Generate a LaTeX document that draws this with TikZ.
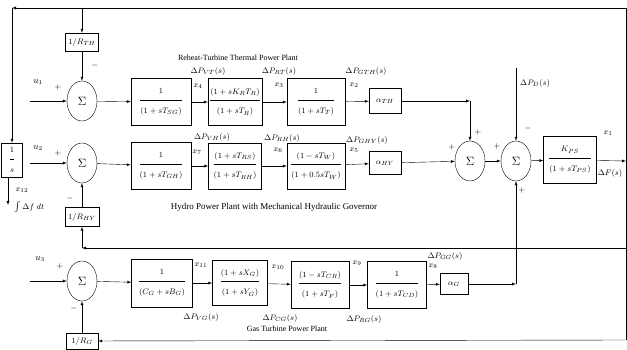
\documentclass[tikz,border=0pt]{standalone}
\usepackage{fontspec}
\setmainfont{Liberation Serif}
\usetikzlibrary{shapes.geometric}
\newcommand{\blkfrac}[2]{$\displaystyle\frac{\rule[-5pt]{0pt}{5pt}#1}{\rule{0pt}{12pt}#2}$}

\begin{document}
\begin{tikzpicture}[x=1pt,y=-1pt,>=latex,
  blk/.style={draw,minimum width=58pt,minimum height=47pt,inner sep=1pt,font=\footnotesize},
  gain/.style={draw,minimum width=32pt,minimum height=21pt,inner sep=1pt,font=\footnotesize},
  sum/.style={draw,ellipse,minimum width=30pt,minimum height=40pt,inner sep=0pt,font=\large},
  lbl/.style={font=\footnotesize,inner sep=1pt},
  sgn/.style={font=\footnotesize,inner sep=0pt}]
  \useasboundingbox (0,0) rectangle (627,349);
  \coordinate (R0) at (626,8);
  \coordinate (L0) at (12,8);
  \coordinate (T1) at (82,8);
  \coordinate (R2) at (626,248);
  \coordinate (C2) at (82,248);
  \coordinate (R3) at (626,340);
  \coordinate (OUT) at (626,161);
  \coordinate (C1) at (470,101);
  \coordinate (C3) at (516,284);
  \coordinate (PD) at (516,68);
  \coordinate (U1) at (30,101);
  \coordinate (U2) at (30,163);
  \coordinate (U3) at (30,281);
  \coordinate (X12) at (8,205);
  \node[gain,minimum width=33pt,minimum height=18pt] (RTH) at (82,42) {$1/R_{TH}$};
  \node[sum] (S1) at (82,101) {$\Sigma$};
  \node[blk,minimum width=60pt] (G1) at (161,102) {\blkfrac{1}{(1+sT_{SG})}};
  \node[blk,minimum width=53pt] (G2) at (235,102) {\blkfrac{(1+sK_RT_R)}{(1+sT_R)}};
  \node[blk] (G3) at (316,102) {\blkfrac{1}{(1+sT_T)}};
  \node[gain,minimum height=25pt] (ATH) at (385,101) {$\alpha_{TH}$};
  \node[draw,minimum width=21pt,minimum height=34pt,inner sep=0pt,font=\footnotesize] (INT) at (12,160) {\blkfrac{1}{s}};
  \node[sum] (S2) at (82,163) {$\Sigma$};
  \node[blk,minimum width=60pt] (G4) at (161,166) {\blkfrac{1}{(1+sT_{GH})}};
  \node[blk,minimum width=53pt,minimum height=46pt] (G5) at (235,166) {\blkfrac{(1+sT_{RS})}{(1+sT_{RH})}};
  \node[blk,minimum height=46pt] (G6) at (316,166) {\blkfrac{(1-sT_W)}{(1+0.5sT_W)}};
  \node[gain,minimum height=23pt] (AHY) at (385,163) {$\alpha_{HY}$};
  \node[gain,minimum width=34pt,minimum height=19pt] (RHY) at (82,217) {$1/R_{HY}$};
  \node[sum] (S4) at (470,161) {$\Sigma$};
  \node[sum] (S5) at (516,161) {$\Sigma$};
  \node[blk,minimum width=53pt] (KPS) at (570,160) {\blkfrac{K_{PS}}{(1+sT_{PS})}};
  \node[sum] (S3) at (82,281) {$\Sigma$};
  \node[blk,minimum width=61pt,minimum height=48pt] (G7) at (162,283) {\blkfrac{1}{(C_G+sB_G)}};
  \node[blk,minimum width=55pt,minimum height=45pt] (G8) at (240,283) {\blkfrac{(1+sX_G)}{(1+sY_G)}};
  \node[blk] (G9) at (320,285) {\blkfrac{(1-sT_{CR})}{(1+sT_F)}};
  \node[blk,minimum width=59pt] (G10) at (397,285) {\blkfrac{1}{(1+sT_{CD})}};
  \node[gain,minimum width=28pt] (AG) at (454,284) {$\alpha_G$};
  \node[gain,minimum height=16pt] (RG) at (82,341) {$1/R_G$};
  \draw[->] (R0) -- (L0);
  \draw[->] (L0) -- (INT.north);
  \draw[->] (T1) -- (RTH);
  \draw[->] (RTH) -- (S1);
  \draw (R0) -- (R3);
  \draw[->] (U1) -- (S1);
  \draw[->] (S1) -- (G1);
  \draw[->] (G1) -- (G2);
  \draw[->] (G2) -- (G3);
  \draw[->] (G3) -- (ATH);
  \draw[->] (ATH) -- (C1);
  \draw[->] (C1) -- (S4);
  \draw[->] (U2) -- (S2);
  \draw[->] (S2) -- (G4);
  \draw[->] (G4) -- (G5);
  \draw[->] (G5) -- (G6);
  \draw[->] (G6) -- (AHY);
  \draw[->] (AHY) -- (S4);
  \draw[->] (S4) -- (S5);
  \draw[->] (S5) -- (KPS);
  \draw[->] (KPS) -- (OUT);
  \draw[->] (PD) -- (S5);
  \draw[->] (INT.south -| X12) -- (X12);
  \draw[->] (R2) -- (C2);
  \draw[->] (C2) -- (RHY);
  \draw[->] (RHY) -- (S2);
  \draw[->] (U3) -- (S3);
  \draw[->] (S3) -- (G7);
  \draw[->] (G7) -- (G8);
  \draw[->] (G8) -- (G9);
  \draw[->] (G9) -- (G10);
  \draw[->] (G10) -- (AG);
  \draw[->] (AG) -- (C3);
  \draw[->] (C3) -- (S5);
  \draw[->] (R3) -- (RG);
  \draw[->] (RG) -- (S3);
  \node[font=\footnotesize] (tth) at (238,58) {Reheat-Turbine Thermal Power Plant};
  \node[font=\small] (thy) at (274,207) {Hydro Power Plant with Mechanical Hydraulic Governor};
  \node[font=\footnotesize] (tgt) at (287,329) {Gas Turbine Power Plant};
  \node[font=\small] (u1) at (38,82) {$u_1$};
  \node[sgn] (p1) at (58,87) {$+$};
  \node[sgn] (m1) at (95,65) {$-$};
  \node[lbl] (x4) at (198,86) {$x_4$};
  \node[lbl] (x3) at (279,85) {$x_3$};
  \node[lbl] (x2) at (354,85) {$x_2$};
  \node[lbl] (pvt) at (208,71) {$\Delta P_{VT}(s)$};
  \node[lbl] (prt) at (279,71) {$\Delta P_{RT}(s)$};
  \node[lbl] (pgth) at (366,71) {$\Delta P_{GTH}(s)$};
  \node[font=\small] (u2) at (38,148) {$u_2$};
  \node[sgn] (p2) at (58,153) {$+$};
  \node[sgn] (m2) at (70,198) {$-$};
  \node[lbl] (x7) at (197,152) {$x_7$};
  \node[lbl] (x6) at (278,150) {$x_6$};
  \node[lbl] (x5) at (354,150) {$x_5$};
  \node[lbl] (pvh) at (212,137) {$\Delta P_{VH}(s)$};
  \node[lbl] (prh) at (282,138) {$\Delta P_{RH}(s)$};
  \node[lbl] (pghy) at (367,140) {$\Delta P_{GHY}(s)$};
  \node[lbl] (x12) at (22,190) {$x_{12}$};
  \node[lbl,anchor=west] (intf) at (13,207) {$\int\Delta f\;dt$};
  \node[sgn] (p41) at (478,132) {$+$};
  \node[sgn] (p42) at (452,147) {$+$};
  \node[sgn] (p51) at (497,146) {$+$};
  \node[sgn] (m5) at (528,128) {$-$};
  \node[sgn] (p53) at (522,190) {$+$};
  \node[lbl,anchor=west] (pdl) at (519,83) {$\Delta P_D(s)$};
  \node[lbl] (x1) at (608,133) {$x_1$};
  \node[lbl] (df) at (610,173) {$\Delta F(s)$};
  \node[font=\small] (u3) at (40,259) {$u_3$};
  \node[sgn] (p3) at (60,266) {$+$};
  \node[sgn] (m3) at (74,308) {$-$};
  \node[lbl] (x11) at (201,265) {$x_{11}$};
  \node[lbl] (x10) at (278,267) {$x_{10}$};
  \node[lbl] (x9) at (357,263) {$x_9$};
  \node[lbl] (x8) at (433,266) {$x_8$};
  \node[lbl] (pvg) at (201,317) {$\Delta P_{VG}(s)$};
  \node[lbl] (pcg) at (280,318) {$\Delta P_{CG}(s)$};
  \node[lbl] (prg) at (364,319) {$\Delta P_{RG}(s)$};
  \node[lbl] (pgg) at (445,256) {$\Delta P_{GG}(s)$};
\end{tikzpicture}
\end{document}
